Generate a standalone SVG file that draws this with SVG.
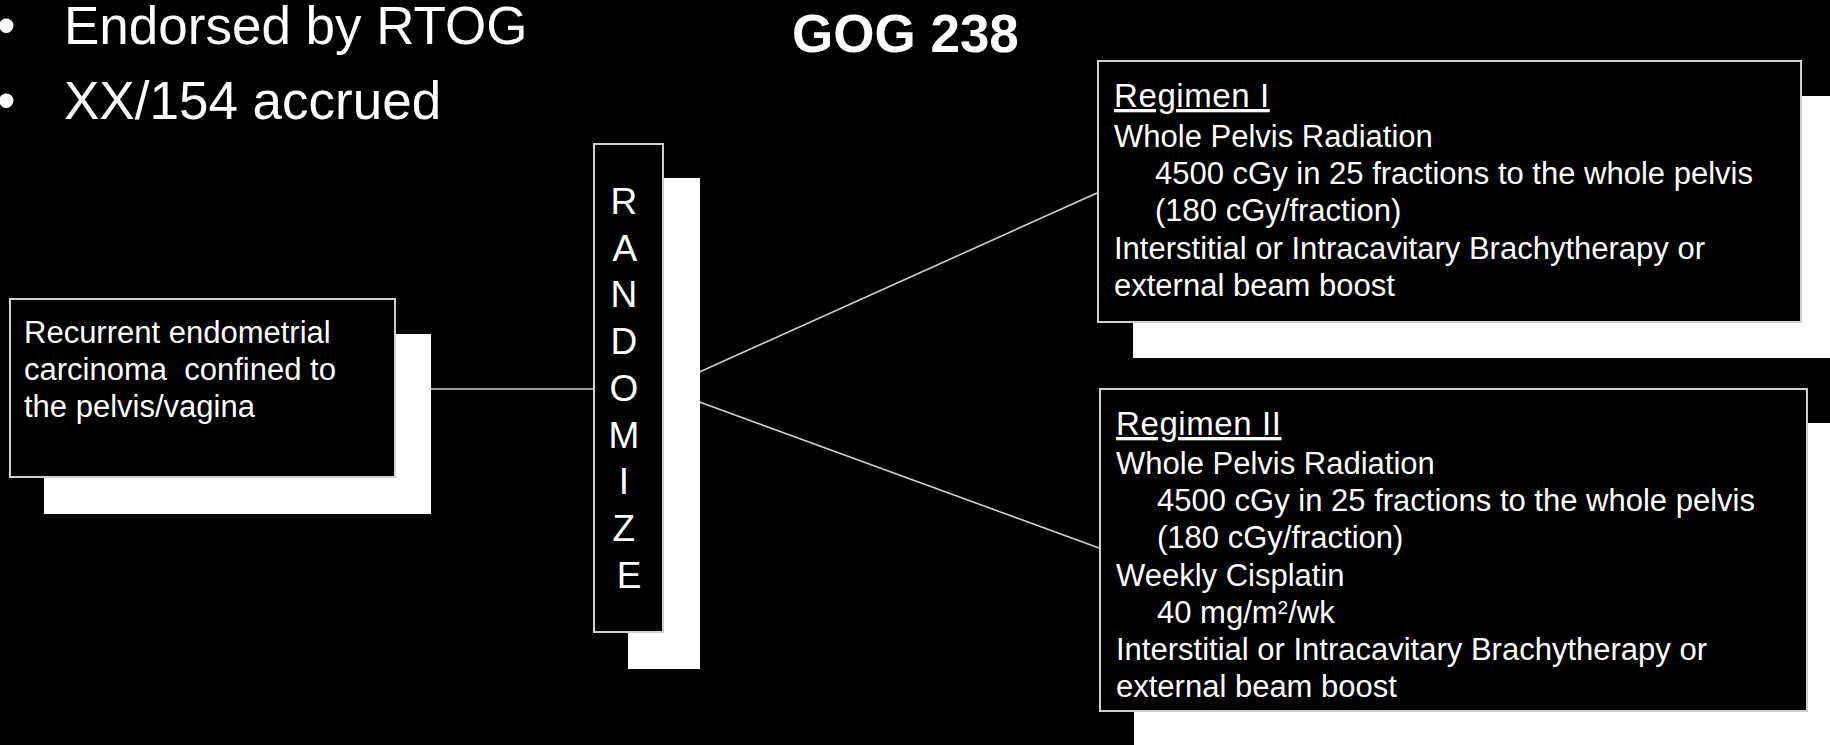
<svg xmlns="http://www.w3.org/2000/svg" width="1830" height="745" viewBox="0 0 1830 745">
<style>
text{font-family:"Liberation Sans",Arial,sans-serif;fill:#fff}
.big{font-size:53px}
.title{font-size:53px;font-weight:bold}
.body{font-size:31px;white-space:pre}
.head{font-size:33px;letter-spacing:0.6px;text-decoration:underline}
.rand{font-size:37px}
.box{fill:#000;stroke:#d0d0d0;stroke-width:2}
.shadow{fill:#fff}
.conn{stroke:#d0d0d0;stroke-width:1.6;fill:none}
</style>
<rect width="1830" height="745" fill="#000"/>
<g id="header">
<text class="big" x="-3" y="44">•</text>
<text class="big" x="64" y="44">Endorsed by RTOG</text>
<text class="big" x="-3" y="119">•</text>
<text class="big" x="64" y="119">XX/154 accrued</text>
<text class="title" x="792" y="52">GOG 238</text>
</g>
<g id="connectors">
<line class="conn" x1="395" y1="389" x2="594" y2="389"/>
<line class="conn" x1="664" y1="388" x2="1097" y2="193"/>
<line class="conn" x1="664" y1="389" x2="1099" y2="548"/>
</g>
<g id="node-recurrent">
<rect class="shadow" x="44" y="334" width="387" height="180"/>
<rect class="box" x="10" y="299" width="385" height="178"/>
<text class="body" x="24" y="343">Recurrent endometrial</text>
<text class="body" x="24" y="380">carcinoma  confined to</text>
<text class="body" x="24" y="417">the pelvis/vagina</text>
</g>
<g id="node-randomize">
<rect class="shadow" x="628" y="178" width="72" height="491"/>
<rect class="box" x="594" y="144" width="69" height="488"/>
<text class="rand" text-anchor="middle">
<tspan x="629" y="214">R</tspan>
<tspan x="629" y="260.7">A</tspan>
<tspan x="629" y="307.4">N</tspan>
<tspan x="629" y="354.1">D</tspan>
<tspan x="629" y="400.8">O</tspan>
<tspan x="629" y="447.5">M</tspan>
<tspan x="629" y="494.2">I</tspan>
<tspan x="629" y="540.9">Z</tspan>
<tspan x="629" y="587.6">E</tspan>
</text>
</g>
<g id="node-regimen1">
<rect class="shadow" x="1133" y="96" width="710" height="262"/>
<rect class="box" x="1098" y="61" width="703" height="261"/>
<text class="head" x="1114" y="107">Regimen I</text>
<text class="body" x="1114" y="147">Whole Pelvis Radiation</text>
<text class="body" x="1155" y="184">4500 cGy in 25 fractions to the whole pelvis</text>
<text class="body" x="1155" y="221">(180 cGy/fraction)</text>
<text class="body" x="1114" y="259">Interstitial or Intracavitary Brachytherapy or</text>
<text class="body" x="1114" y="296">external beam boost</text>
</g>
<g id="node-regimen2">
<rect class="shadow" x="1134" y="423" width="710" height="330"/>
<rect class="box" x="1100" y="389" width="707" height="322"/>
<text class="head" x="1116" y="435">Regimen II</text>
<text class="body" x="1116" y="474">Whole Pelvis Radiation</text>
<text class="body" x="1157" y="511">4500 cGy in 25 fractions to the whole pelvis</text>
<text class="body" x="1157" y="548">(180 cGy/fraction)</text>
<text class="body" x="1116" y="586">Weekly Cisplatin</text>
<text class="body" x="1157" y="623">40 mg/m<tspan font-size="19" dy="-9">2</tspan><tspan dy="9">/wk</tspan></text>
<text class="body" x="1116" y="660">Interstitial or Intracavitary Brachytherapy or</text>
<text class="body" x="1116" y="697">external beam boost</text>
</g>
</svg>
